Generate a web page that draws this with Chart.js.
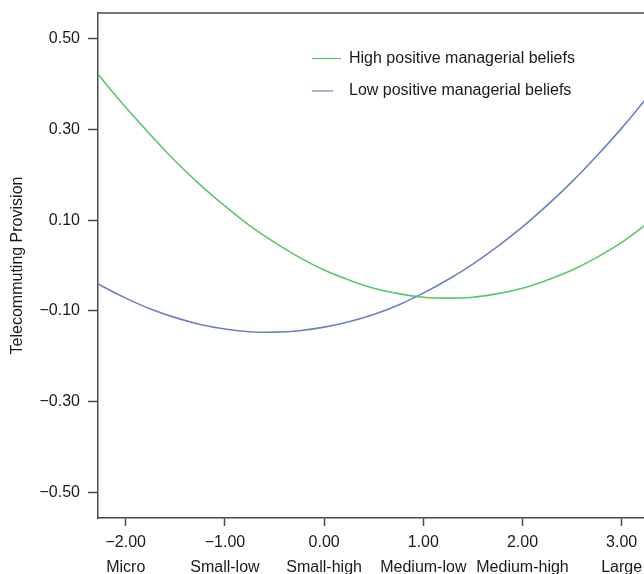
<!DOCTYPE html>
<html>
<head>
<meta charset="utf-8">
<script src="https://cdn.jsdelivr.net/npm/chart.js@4.4.0/dist/chart.umd.min.js"></script>
<style>
  html, body { margin: 0; padding: 0; background: #fff; }
  #wrap { width: 644px; height: 574px; position: relative; }
</style>
</head>
<body>
<div id="wrap"><canvas id="myChart" width="644" height="574"></canvas></div>
<script>
// firm size (centred) on x, telecommuting provision on y
// points run a little past both edges, the plot clips them
const xValues = [-2.5, -2.25, -2.0, -1.75, -1.5, -1.25, -1.0, -0.75, -0.5, -0.25, 0.0, 0.25, 0.5,
                 0.75, 1.0, 1.25, 1.5, 1.75, 2.0, 2.25, 2.5, 2.75, 3.0, 3.25, 3.5];
const highBeliefs = [0.491, 0.414, 0.349, 0.288, 0.230, 0.178, 0.131, 0.088, 0.051, 0.018, -0.010, -0.032, -0.050,
                     -0.062, -0.070, -0.072, -0.070, -0.062, -0.050, -0.032, -0.010, 0.018, 0.051, 0.091, 0.130];
const lowBeliefs = [-0.011, -0.044, -0.072, -0.096, -0.115, -0.130, -0.140, -0.146, -0.147, -0.144, -0.136, -0.124, -0.108,
                    -0.087, -0.061, -0.031, 0.003, 0.042, 0.085, 0.133, 0.185, 0.242, 0.303, 0.369, 0.439];

const seriesNames = ['High positive managerial beliefs', 'Low positive managerial beliefs'];

const xTickValues = [-2, -1, 0, 1, 2, 3];
const xTickLabels = ['\u22122.00', '\u22121.00', '0.00', '1.00', '2.00', '3.00'];
const sizeCategories = ['Micro', 'Small-low', 'Small-high', 'Medium-low', 'Medium-high', 'Large'];

const yTickValues = [-0.5, -0.3, -0.1, 0.1, 0.3, 0.5];
const yTickLabels = ['\u22120.50', '\u22120.30', '\u22120.10', '0.10', '0.30', '0.50'];

const GREEN = '#5cc66c';
const BLUE = '#6f7fc6';
const AXIS = '#4a4a4a';
const FONT = { family: '"Liberation Sans", Arial, Helvetica, sans-serif', size: 16 };

// top frame line + legend drawn inside the plot
const framePlugin = {
    id: 'frame',
    afterDraw(chart) {
        const ctx = chart.ctx;
        const a = chart.chartArea;
        ctx.save();
        ctx.strokeStyle = AXIS;
        ctx.lineWidth = 1.5;
        ctx.beginPath();
        ctx.moveTo(a.left, a.top);
        ctx.lineTo(a.right, a.top);
        ctx.stroke();

        const rows = [
            { y: 58.5, x1: 312, x2: 341, color: GREEN },
            { y: 91, x1: 312, x2: 333, color: BLUE }
        ];
        ctx.font = FONT.size + 'px ' + FONT.family;
        ctx.fillStyle = '#1a1a1a';
        ctx.textBaseline = 'middle';
        rows.forEach((r, i) => {
            ctx.strokeStyle = r.color;
            ctx.lineWidth = 1.2;
            ctx.beginPath();
            ctx.moveTo(r.x1, r.y);
            ctx.lineTo(r.x2, r.y);
            ctx.stroke();
            ctx.fillText(chart.data.datasets[i].label, 349, r.y);
        });
        ctx.restore();
    }
};

const toPoints = ys => xValues.map((x, i) => ({ x: x, y: ys[i] }));

new Chart(document.getElementById('myChart'), {
    type: 'line',
    data: {
        datasets: [
            { label: seriesNames[0], data: toPoints(highBeliefs), borderColor: GREEN, borderWidth: 1.6, pointRadius: 0, tension: 0.4, fill: false },
            { label: seriesNames[1], data: toPoints(lowBeliefs), borderColor: BLUE, borderWidth: 1.6, pointRadius: 0, tension: 0.4, fill: false }
        ]
    },
    options: {
        responsive: false,
        animation: false,
        layout: { padding: { top: 13, right: 0, left: 0, bottom: 0 } },
        plugins: {
            legend: { display: false },
            tooltip: { enabled: false }
        },
        scales: {
            x: {
                type: 'linear',
                min: -2.28,
                max: 3.225,
                afterBuildTicks: s => { s.ticks = xTickValues.map(v => ({ value: v })); },
                afterFit: s => { s.height = 56; s.paddingLeft = 0; s.paddingRight = 0; },
                border: { display: true, color: AXIS, width: 1.5 },
                grid: { drawOnChartArea: false, drawTicks: true, tickLength: 8, tickColor: AXIS, tickWidth: 1.5 },
                ticks: {
                    color: '#1a1a1a',
                    font: Object.assign({ lineHeight: 1.58 }, FONT),
                    padding: 4,
                    maxRotation: 0,
                    autoSkip: false,
                    callback: v => {
                        const i = xTickValues.indexOf(v);
                        return i < 0 ? '' : [xTickLabels[i], sizeCategories[i]];
                    }
                }
            },
            y: {
                min: -0.557,
                max: 0.557,
                afterBuildTicks: s => { s.ticks = yTickValues.map(v => ({ value: v })); },
                afterFit: s => { s.width = 98; s.paddingTop = 0; s.paddingBottom = 0; },
                border: { display: true, color: AXIS, width: 1.5 },
                grid: { drawOnChartArea: false, drawTicks: true, tickLength: 10, tickColor: AXIS, tickWidth: 1.5 },
                title: {
                    display: true,
                    text: 'Telecommuting Provision',
                    color: '#1a1a1a',
                    font: { family: FONT.family, size: 16 },
                    padding: { top: 8, bottom: 0 }
                },
                ticks: {
                    color: '#1a1a1a',
                    font: FONT,
                    padding: 8,
                    callback: v => {
                        const i = yTickValues.findIndex(t => Math.abs(t - v) < 1e-9);
                        return i < 0 ? '' : yTickLabels[i];
                    }
                }
            }
        }
    },
    plugins: [framePlugin]
});
</script>
</body>
</html>
